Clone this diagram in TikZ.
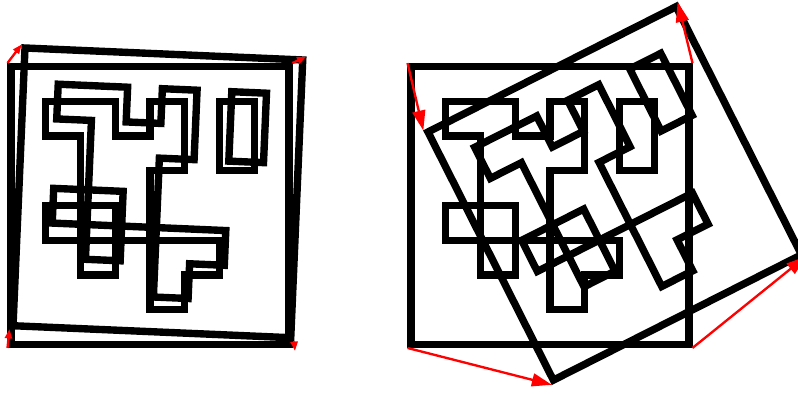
\documentclass[tikz,border=0pt]{standalone}
\usetikzlibrary{arrows.meta}

% one copy of the test card: frame, maze and bar, in grid units (8 x 8)
\newcommand{\testcard}[2]{%
  \begin{scope}[#1, scale=34.75]
    \draw[frame] (0,0) rectangle (8,8);
    \draw[frame] (1,1) -- (3,1) -- (3,2) -- (4,2) -- (4,1) -- (5,1) -- (5,3) -- (4,3) -- (4,7) -- (5,7)
      -- (5,6) -- (6,6) -- (6,5) -- (1,5) -- (1,4) -- (3,4) -- (3,6) -- (2,6) -- (2,2) -- (1,2) -- cycle;
    \draw[frame] (6,1) rectangle (7,3);
    \coordinate (#2-tl) at (-0.1,-0.1);
    \coordinate (#2-tr) at (8.1,-0.1);
    \coordinate (#2-bl) at (-0.1,8.1);
    \coordinate (#2-br) at (8.1,8.1);
  \end{scope}}

\begin{document}
\begin{tikzpicture}[
    x=0.03cm, y=-0.03cm,
    frame/.style={draw=black, line width=6.3pt, line join=miter},
    move/.style={-{Triangle[length=17pt, width=11pt]}, draw=red, fill=red, line width=2pt},
    small move/.style={move, -{Triangle[length=8pt, width=6pt]}}
]
    \useasboundingbox (0,0) rectangle (798,394);
    \clip (0,0) rectangle (798,394);

    % left: small tilt
    \testcard{shift={(11,66.5)}}{src}
    \testcard{shift={(25,48)}, rotate=-2.47}{tilt}
    \coordinate (tilt-brend) at (295,351);

    \draw[small move] (src-tl) -- (tilt-tl);
    \draw[small move] (src-tr) -- (tilt-tr);
    \draw[small move] (src-bl) -- (tilt-bl);
    \draw[small move] (tilt-br) -- (tilt-brend);

    % right: large turn
    \testcard{shift={(411,66.5)}}{orig}
    \testcard{shift={(428,132)}, rotate=26.8}{turn}

    \draw[move] (orig-tl) -- (turn-tl);
    \draw[move] (orig-tr) -- (turn-tr);
    \draw[move] (orig-bl) -- (turn-bl);
    \draw[move] (orig-br) -- (turn-br);
\end{tikzpicture}
\end{document}
